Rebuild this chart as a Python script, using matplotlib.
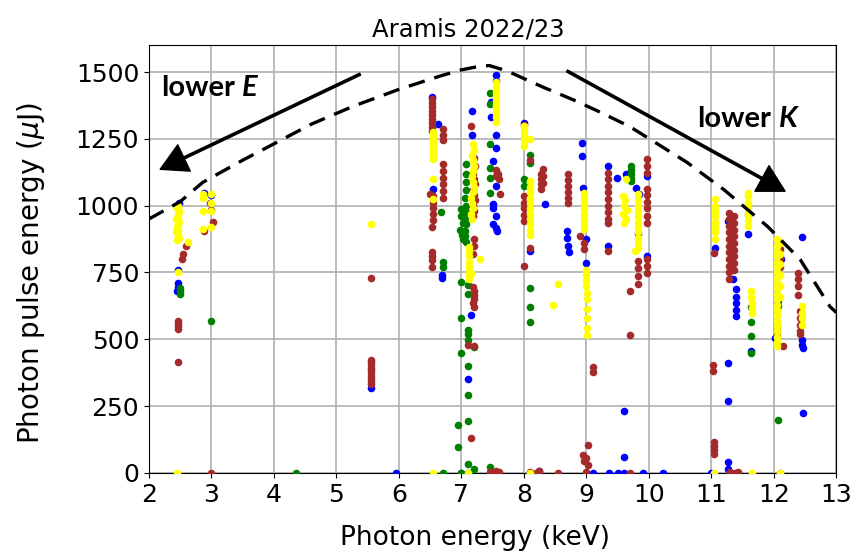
import numpy as np
import matplotlib.pyplot as plt

# photon energy (keV) / pulse energy (uJ) per colour group
blue_x = [2.48, 2.47, 2.46, 2.47, 2.45, 2.88, 3.0, 5.55, 5.95,
          6.53, 6.63, 6.55, 6.69, 6.69, 7.17, 7.17, 7.1, 7.15, 7.0,
          7.55, 7.55, 7.47, 7.48, 7.55, 7.55, 7.5, 7.55, 7.5, 7.5, 7.55, 7.5, 7.55, 7.57,
          8.0, 8.1, 8.34, 8.25, 8.69, 8.69, 8.7, 8.72, 8.93, 8.93, 8.95, 9.0, 9.0,
          9.35, 9.35, 9.49, 9.63, 9.85, 9.8, 9.83, 9.97, 9.97, 9.6, 9.6,
          9.1, 9.36, 9.5, 9.6, 9.9, 10.23, 11.0, 11.27, 11.27,
          11.06, 11.27, 11.35, 11.39, 11.39, 11.39, 11.39, 11.39, 11.58, 11.63, 11.26, 11.26,
          12.12, 12.02, 12.45, 12.45, 12.45, 12.46, 12.46]
blue_y = [1010, 760, 709, 695, 680, 1046, 1040, 319, 0,
          1406, 1305, 1061, 739, 731, 1354, 1266, 352, 592, 0,
          1490, 1466, 1387, 1330, 1266, 1215, 1166, 1075, 1005, 990, 961, 930, 915, 905,
          1311, 830, 1005, 8, 905, 880, 850, 826, 1236, 1186, 1067, 874, 786,
          1149, 849, 1105, 1117, 1042, 1067, 899, 1111, 811, 232, 60,
          0, 0, 0, 0, 0, 0, 0, 15, 40,
          843, 943, 724, 689, 660, 637, 611, 587, 893, 455, 411, 268,
          799, 505, 883, 499, 480, 467, 225]

green_x = [2.5, 2.5, 2.5, 3.0, 4.35, 6.7, 6.68, 6.7, 6.7,
           7.08, 7.08, 7.07, 7.08, 7.06, 7.07, 7.08, 7.06, 7.07, 7.05, 7.06, 7.08,
           7.0, 6.99, 7.02, 6.98, 7.01, 7.03,
           7.0, 7.1, 7.1, 7.0, 7.1, 7.1, 7.1, 7.2, 7.0, 7.1, 7.1, 6.95, 7.1, 6.95,
           7.1, 7.2, 7.46, 7.1, 7.0,
           7.46, 7.46, 7.46, 7.46, 7.46, 7.46,
           8.1, 8.1, 8.0, 8.0, 8.1, 8.1, 8.1,
           9.72, 9.72, 9.72, 9.72, 9.72,
           11.32, 11.32, 11.32, 11.32, 11.63, 11.63, 11.63, 11.63,
           12.07, 12.07, 12.07, 12.06]
green_y = [690, 680, 670, 570, 0, 0, 975, 791, 770,
           1155, 1120, 1090, 1060, 1030, 1000, 975, 950, 930, 905, 885, 865,
           986, 960, 935, 910, 890, 874,
           716, 702, 671, 580, 536, 520, 499, 471, 450, 401, 292, 180, 195, 97,
           34, 15, 22, 0, 0,
           1421, 1380, 1230, 1141, 1102, 1049,
           1191, 1160, 1098, 1074, 690, 622, 566,
           1149, 1135, 1120, 1105, 1092,
           899, 880, 865, 849, 619, 566, 514, 450,
           661, 643, 624, 199]

brown_x = [2.6, 2.55, 2.53, 2.47, 2.47, 2.47, 2.47, 2.47,
           2.97, 3.0, 3.02, 2.88,
           5.55, 5.55, 5.55, 5.55, 5.55, 5.55, 5.55, 5.55, 5.55, 5.55, 5.55,
           6.53, 6.53, 6.53, 6.53, 6.53, 6.53, 6.53, 6.53, 6.53,
           6.71, 6.71, 6.71, 6.71, 6.71, 6.71, 6.71, 6.71, 6.71,
           6.55, 6.55, 6.55, 6.55, 6.55, 6.53, 6.49,
           6.53, 6.53, 6.53, 6.53,
           7.16, 7.2, 7.22, 7.18, 7.2, 7.22, 7.19, 7.2, 7.21, 7.18, 7.2, 7.19, 7.2, 7.2,
           7.19, 7.19, 7.2, 7.2, 7.2, 7.19, 7.2, 7.1, 7.2, 7.15,
           7.55, 7.58, 7.55, 7.6, 7.62,
           8.0, 8.0, 8.0, 8.0, 8.0, 8.0, 8.0, 8.1, 8.1,
           8.28, 8.28, 8.28, 8.28, 8.31, 8.31, 8.31,
           8.71, 8.71, 8.71, 8.71, 8.71, 8.71,
           8.9, 8.97, 8.97,
           9.35, 9.35, 9.35, 9.35, 9.35, 9.35, 9.35, 9.35, 9.35, 9.35,
           9.97, 9.97, 9.97, 9.97, 9.97, 9.97, 9.97, 9.97, 9.97, 9.97, 9.97, 9.97,
           9.83, 9.83, 9.83, 9.83, 9.7, 9.7, 9.1, 9.1,
           9.02, 8.95, 9.0, 8.97, 9.03,
           11.05, 11.03, 11.03, 11.05, 11.05, 11.05, 11.05,
           11.28, 11.28, 11.28, 11.28, 11.28, 11.28, 11.28, 11.28, 11.28, 11.28, 11.28,
           11.36, 11.36, 11.36, 11.36, 11.36, 11.36, 11.36, 11.36, 11.36,
           11.58, 12.05, 12.05, 12.05, 12.15, 12.1, 12.1, 12.1,
           12.38, 12.38, 12.38, 12.38, 12.42, 12.42, 12.42, 12.42, 12.42,
           3.0, 7.45, 7.5, 7.55, 7.6, 8.1, 8.2, 8.25, 8.55, 9.0, 9.7,
           11.3, 11.38, 11.43, 12.1]
brown_y = [850, 820, 800, 570, 560, 550, 540, 415,
           1010, 985, 940, 905,
           730, 424, 414, 404, 394, 384, 372, 362, 352, 342, 332,
           1400, 1385, 1370, 1355, 1340, 1325, 1310, 1295, 1280,
           1285, 1265, 1245, 1155, 1130, 1105, 1080, 1055, 1030,
           1035, 1010, 990, 970, 945, 920, 1042,
           825, 810, 795, 770,
           1299, 1180, 1150, 1120, 1100, 1080, 1060, 1040, 1020, 1000, 980, 960, 877, 850,
           820, 694, 680, 665, 650, 635, 620, 480, 474, 131,
           1134, 1120, 1110, 1099, 1042,
           1300, 1036, 1010, 990, 965, 942, 773, 1172, 842,
           1120, 1100, 1080, 1062, 1136, 1110, 1086,
           1117, 1095, 1075, 1050, 1030, 1011,
           886, 861, 836,
           1124, 1100, 1075, 1050, 1025, 1000, 975, 950, 936, 830,
           1174, 1150, 1124, 1061, 1040, 1015, 990, 960, 936, 799, 775, 749,
           792, 765, 735, 705, 679, 515, 398, 376,
           105, 67, 55, 45, 30,
           824, 404, 380, 116, 100, 85, 71,
           974, 950, 925, 900, 875, 850, 825, 800, 775, 750, 724,
           960, 935, 910, 885, 860, 835, 810, 785, 760,
           967, 549, 530, 511, 474, 836, 805, 772,
           749, 725, 700, 667, 605, 580, 555, 530, 518,
           0, 5, 0, 8, 3, 5, 0, 8, 0, 5, 0,
           5, 0, 3, 0]

yellow_x = [2.47, 2.45, 2.48, 2.46, 2.47, 2.44, 2.48, 2.46, 2.45, 2.47, 2.44, 2.46, 2.48, 2.45,
            2.62, 2.47,
            2.86, 2.86, 2.86, 2.86, 3.0, 3.0, 3.0, 3.0, 5.55,
            6.55, 6.55, 6.55, 6.55, 6.55, 6.55, 6.55, 6.55, 6.55, 6.55,
            7.18, 7.2, 7.17, 7.19, 7.2, 7.18, 7.17, 7.19, 7.2, 7.18, 7.16, 7.17, 7.18, 7.16, 7.17,
            7.12, 7.12, 7.12, 7.12, 7.12, 7.12, 7.12, 7.12, 7.3, 7.15,
            7.55, 7.55, 7.55, 7.55, 7.55, 7.55, 7.55, 7.55, 7.55, 7.55, 7.55,
            8.0, 8.0, 8.0, 8.0, 8.0, 8.0, 8.1,
            8.1, 8.1, 8.1, 8.1, 8.1, 8.1, 8.1, 8.1, 8.1, 8.1, 8.1,
            8.47, 8.55,
            8.97, 8.97, 8.97, 8.97, 8.97, 8.97, 8.97, 8.97,
            9.0, 9.0, 9.0, 9.0, 9.01, 9.01, 9.01, 9.01, 9.01, 9.01,
            9.58, 9.62, 9.6, 9.65, 9.58, 9.63, 9.6, 9.63,
            9.83, 9.83, 9.83, 9.83, 9.83, 9.83, 9.83, 9.83, 9.83, 9.83, 9.83, 9.78,
            11.06, 11.06, 11.06, 11.06, 11.06, 11.06, 11.06, 11.06,
            11.58, 11.58, 11.58, 11.58, 11.58, 11.58, 11.58,
            11.63, 11.63, 11.65, 11.65, 11.65,
            12.05, 12.05, 12.05, 12.05, 12.05, 12.05, 12.05, 12.05, 12.05, 12.05, 12.05,
            12.05, 12.05, 12.05, 12.05, 12.05, 12.05, 12.05, 12.05, 12.05, 12.05,
            12.1, 12.1, 12.1, 12.1, 12.1, 12.1,
            12.45, 12.45, 12.45, 12.45,
            2.45, 6.55, 7.1, 8.1, 11.04, 11.65, 12.1]
yellow_y = [1000, 990, 980, 970, 960, 950, 940, 930, 920, 910, 900, 890, 880, 870,
            865, 750,
            1042, 1030, 979, 911, 1042, 1011, 979, 919, 930,
            1275, 1260, 1245, 1230, 1215, 1200, 1185, 1174, 1099, 1024,
            1230, 1210, 1190, 1170, 1150, 1130, 1110, 1090, 1070, 1050, 1030, 1010, 990, 970, 949,
            847, 830, 810, 790, 770, 750, 735, 724, 799, 749,
            1462, 1450, 1435, 1420, 1405, 1390, 1375, 1360, 1345, 1330, 1312,
            1299, 1285, 1270, 1255, 1240, 1224, 1249,
            1092, 1070, 1050, 1030, 1010, 990, 970, 950, 930, 910, 892,
            630, 705,
            1049, 1030, 1010, 990, 970, 950, 930, 911,
            761, 740, 720, 699, 675, 650, 615, 580, 542, 517,
            1036, 1020, 1000, 985, 970, 950, 936, 1099,
            1042, 1020, 1000, 980, 960, 940, 920, 900, 880, 860, 840, 830,
            1024, 1000, 980, 960, 940, 920, 900, 874,
            1049, 1036, 1010, 990, 970, 945, 924,
            680, 660, 637, 618, 599,
            874, 850, 830, 810, 790, 770, 750, 730, 710, 690, 670,
            650, 630, 610, 590, 570, 550, 530, 510, 490, 474,
            860, 820, 780, 740, 700, 660,
            624, 600, 580, 555,
            0, 0, 0, 0, 0, 0, 0]

# upper envelope (dashed)
curve_x = [2.0, 2.5, 2.86, 3.5, 3.99, 4.6, 5.27, 6.0, 6.66, 7.0, 7.3, 7.45, 7.73,
           8.31, 8.8, 9.22, 9.7, 10.07, 10.61, 11.2, 11.9, 12.42, 12.9, 13.0]
curve_y = [950, 1015, 1087, 1170, 1230, 1305, 1372, 1435, 1485, 1508, 1522, 1524, 1504,
           1443, 1395, 1350, 1295, 1241, 1162, 1060, 922, 799, 622, 600]

plt.rcParams['font.family'] = 'DejaVu Sans'
fig = plt.figure(figsize=(8.56, 5.59), dpi=100)
ax = fig.add_subplot(111)
fig.subplots_adjust(left=0.174, right=0.977, bottom=0.154, top=0.919)

dot = 30
ax.scatter(blue_x, blue_y, s=dot, color='#0000ff', lw=0, zorder=3)
ax.scatter(green_x, green_y, s=dot, color='#008000', lw=0, zorder=3)
ax.scatter(brown_x, brown_y, s=dot, color='#a52a2a', lw=0, zorder=3)
ax.scatter(yellow_x, yellow_y, s=dot, color='#ffff00', lw=0, zorder=3)

ax.plot(curve_x, curve_y, color='black', lw=2.4, dashes=(5, 3), zorder=4)

arrow = dict(facecolor='black', edgecolor='black', width=1.6, headwidth=21, headlength=19, shrink=0)
ax.annotate('', xy=(2.18, 1136), xytext=(5.38, 1492), arrowprops=arrow, zorder=5)
ax.annotate('', xy=(12.18, 1054), xytext=(8.69, 1504), arrowprops=arrow, zorder=5)

lab = dict(fontsize=21, family='Lato', fontweight='bold')
t1 = ax.text(2.2, 1440, 'lower', va='center', ha='left', **lab)
ax.annotate('E', xy=(1, 0), xycoords=t1, xytext=(5, 0), textcoords='offset points',
            va='bottom', ha='left', style='italic', **lab)
t2 = ax.text(10.78, 1325, 'lower', va='center', ha='left', **lab)
ax.annotate('K', xy=(1, 0), xycoords=t2, xytext=(5, 0), textcoords='offset points',
            va='bottom', ha='left', style='italic', **lab)

ax.set_xlim(2, 13)
ax.set_ylim(0, 1600)
ax.set_xticks(np.arange(2, 14, 1))
ax.set_yticks(np.arange(0, 1501, 250))
ax.grid(True, color='#b0b0b0', lw=1.2)
ax.set_axisbelow(True)
ax.tick_params(labelsize=18)
ax.set_title('Aramis 2022/23', fontsize=17.5, x=0.465)
ax.set_xlabel('Photon energy (keV)', fontsize=19)
ax.set_ylabel(r'Photon pulse energy ($\mu$J)', fontsize=20)
ax.xaxis.set_label_coords(0.4745, -0.122)
ax.yaxis.set_label_coords(-0.149, 0.467)

fig.savefig('out.png', dpi=100)
